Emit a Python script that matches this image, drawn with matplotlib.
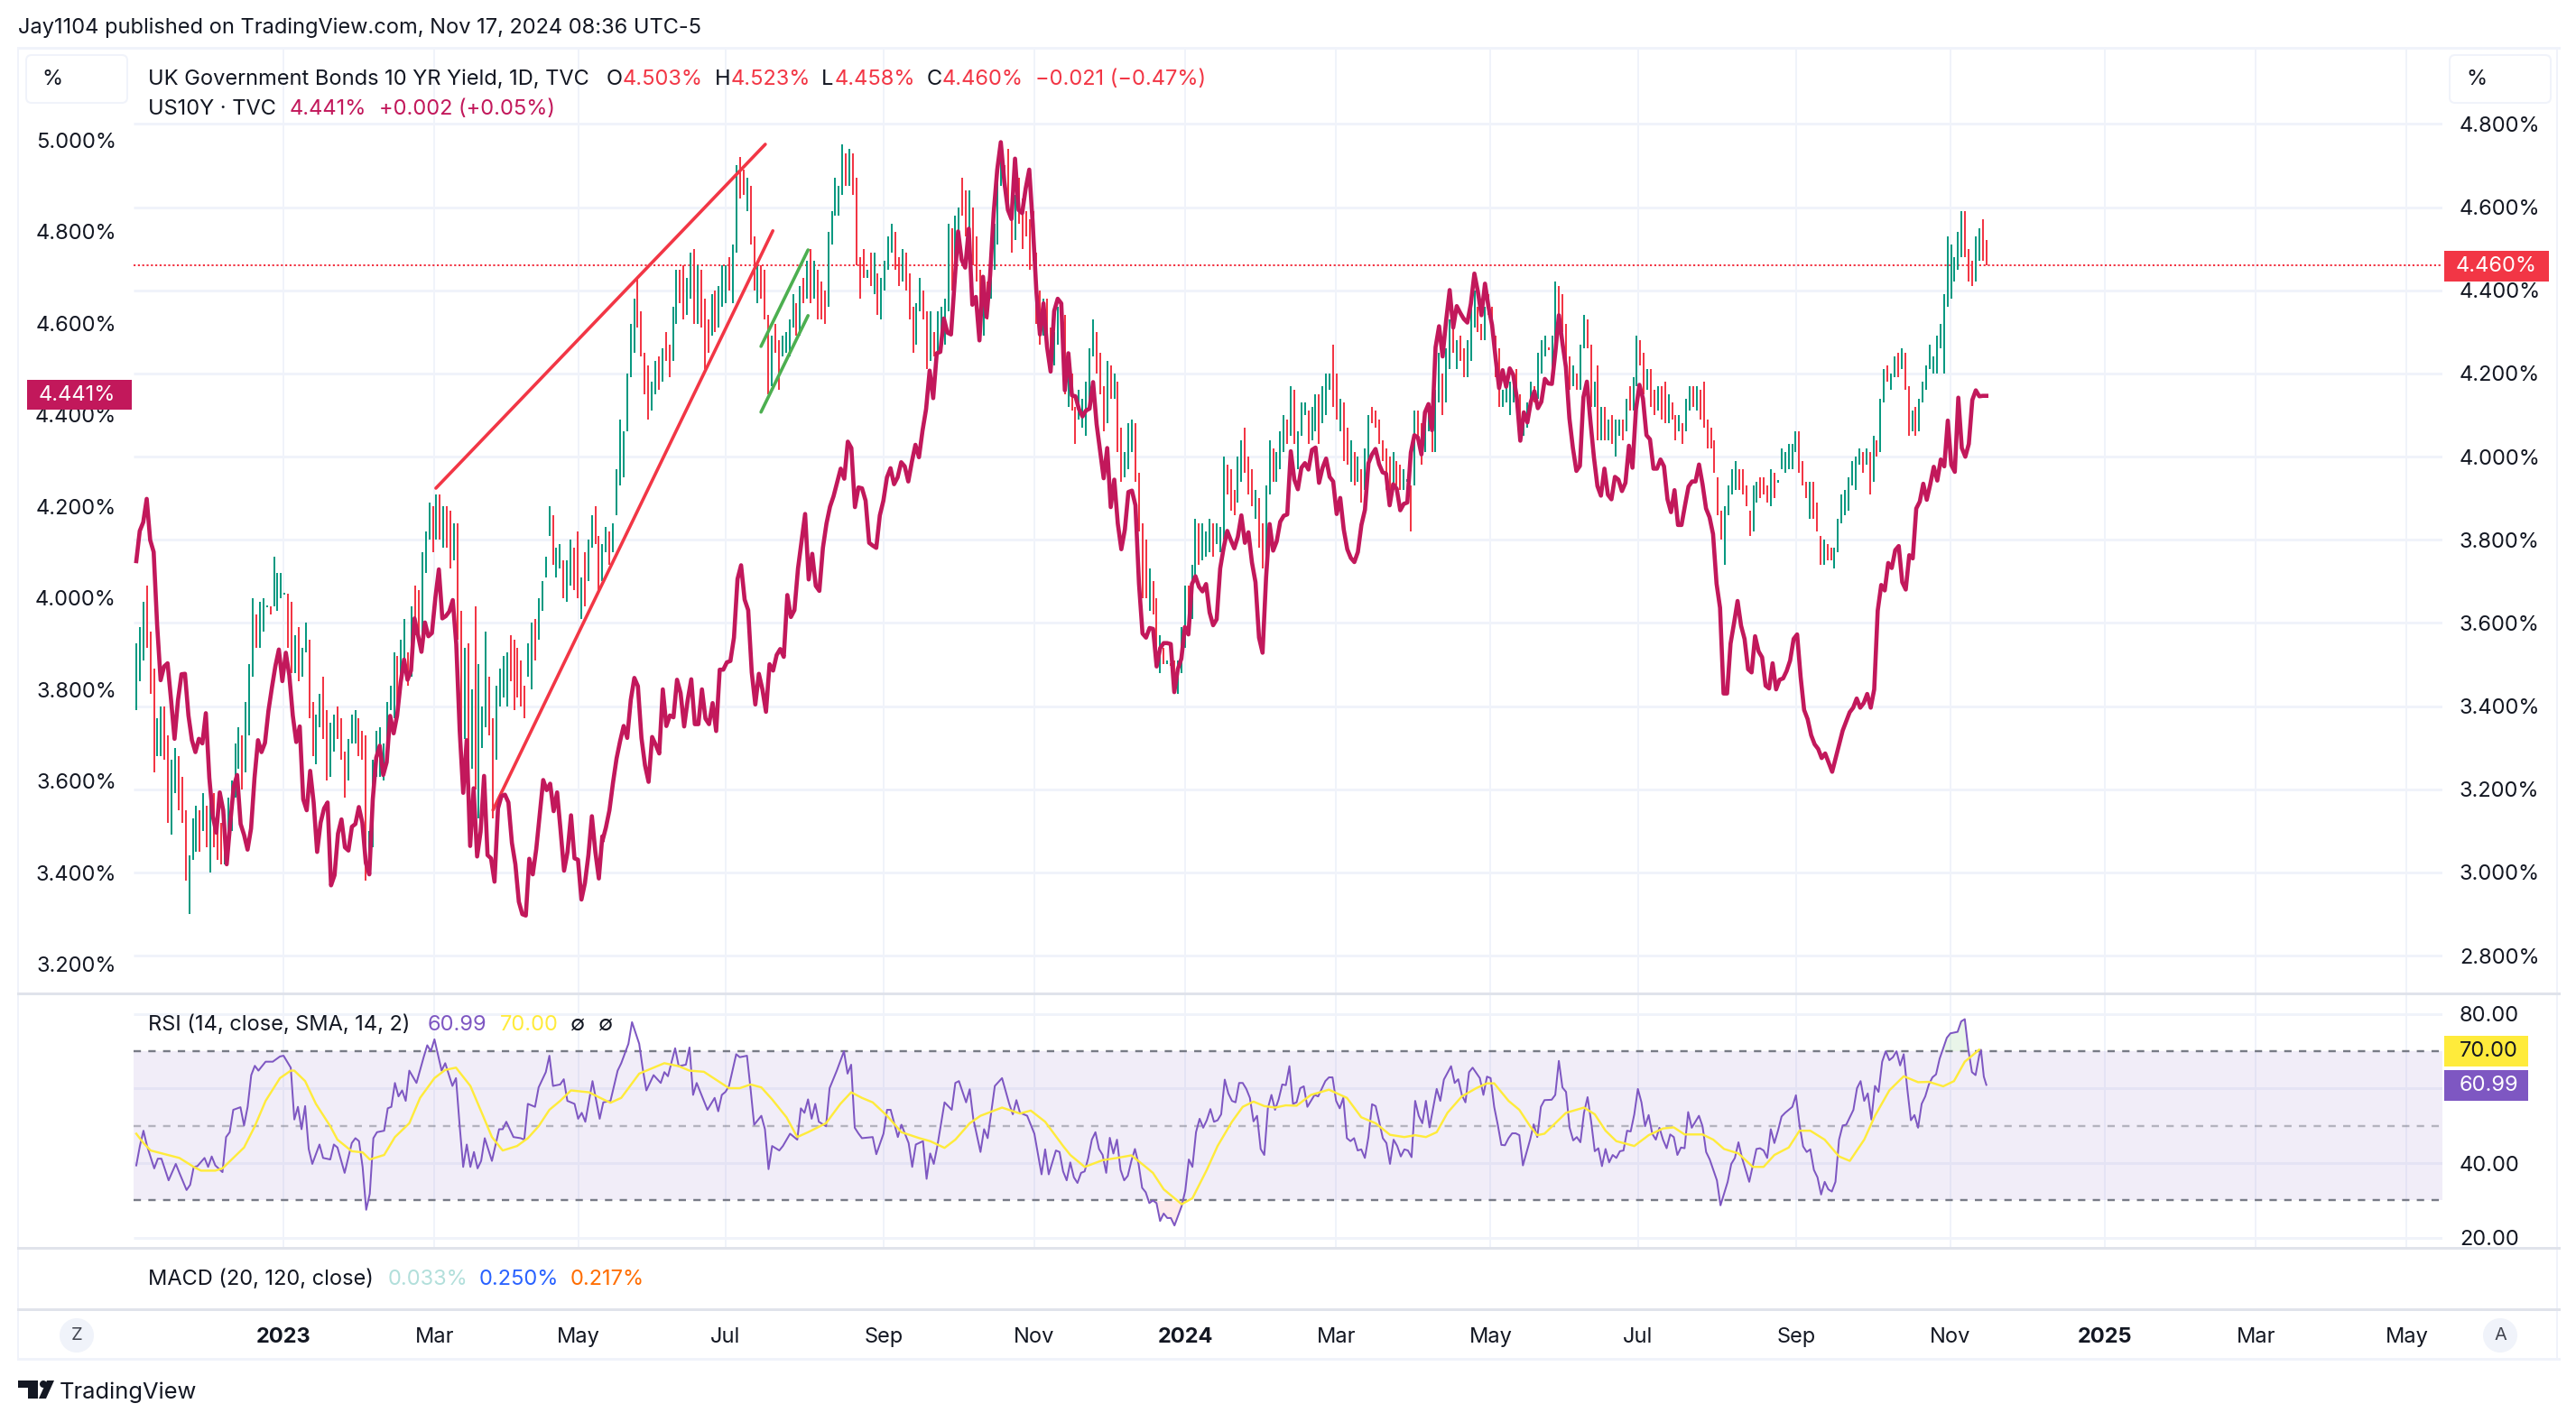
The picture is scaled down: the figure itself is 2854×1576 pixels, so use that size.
import numpy as np
import matplotlib
matplotlib.use("Agg")
from matplotlib import pyplot as plt
from matplotlib.lines import Line2D
from matplotlib.patches import Rectangle, FancyBboxPatch, Ellipse, Polygon
from matplotlib.transforms import Affine2D, blended_transform_factory

plt.rcParams['font.family'] = ['Inter', 'DejaVu Sans']

gilt_high_1 = [3.55,3.59,3.65,3.69,3.58,3.49,3.37,3.40,3.40,3.33,
    3.27,3.30,3.28,3.23,3.15,3.04,3.13,3.16,3.15,3.19,
    3.16,3.17,3.19,3.12,3.12,3.11,3.18,3.22,3.31,3.35,
    3.33,3.41,3.50,3.66,3.62,3.65,3.66,3.643,3.64,3.76,
    3.72,3.72,3.673,3.67,3.65,3.57,3.59,3.54,3.60,3.56,
    3.41,3.38,3.43,3.47,3.39,3.36,3.38,3.40,3.37,3.29,
    3.32,3.38,3.39,3.37,3.34,3.33,3.10,3.27,3.34,3.35,
    3.31,3.41,3.45,3.53,3.52,3.56,3.61,3.53,3.64,3.69,
    3.68,3.77,3.82,3.89,3.88,3.91,3.91,3.88,3.88,3.87,
    3.84,3.84,3.63,3.54,3.55,3.44,3.64,3.50,3.40,3.58,
    3.47,3.37,3.45,3.49,3.52,3.53,3.57,3.56,3.54,3.51,
    3.45,3.55,3.60,3.61,3.66,3.70,3.76,3.88,3.86,3.78,
    3.79,3.75,3.75,3.80,3.78,3.82,3.71,3.77,3.80,3.86,
    3.88,3.81,3.79]
gilt_low_1 = [3.39,3.46,3.51,3.54,3.43,3.24,3.28,3.28,3.27,3.12,
    3.09,3.19,3.15,3.12,2.98,2.90,3.03,3.05,3.05,3.10,
    3.06,3.00,3.06,3.03,3.02,3.02,3.09,3.10,3.18,3.25,
    3.20,3.24,3.33,3.47,3.54,3.54,3.58,3.637,3.62,3.64,
    3.63,3.66,3.667,3.54,3.48,3.48,3.46,3.47,3.53,3.37,
    3.28,3.26,3.35,3.32,3.22,3.23,3.29,3.32,3.27,3.18,
    3.22,3.31,3.31,3.28,3.27,2.98,2.99,3.06,3.23,3.23,
    3.22,3.29,3.39,3.37,3.40,3.45,3.49,3.45,3.47,3.57,
    3.55,3.53,3.72,3.80,3.77,3.80,3.80,3.78,3.78,3.73,
    3.75,3.56,3.25,3.32,3.21,3.25,3.20,3.13,3.30,3.35,
    3.33,3.13,3.27,3.40,3.42,3.40,3.46,3.39,3.42,3.40,
    3.37,3.47,3.44,3.51,3.56,3.63,3.71,3.81,3.74,3.71,
    3.73,3.66,3.65,3.69,3.68,3.66,3.61,3.64,3.70,3.78,
    3.79,3.67,3.70]
gilt_dir_1 = ("gggrrrggrr" "ggrrrgggrg" "rgrrrggggg" "rgggrgggrg" "gggrrgrggr"
    "rggrrggrrr" "gggrrrgggg" "ggggrggrgr" "rgggrgrgrr" "grrgrgrggg"
    "rrggggrrrr" "rggrggggrg" "grggrrgrgg" "rrg")

gilt_high_2 = [3.83,3.82,3.84,3.97,4.09,4.06,4.20,4.32,4.38,4.43,
    4.35,4.25,4.22,4.18,4.23,4.24,4.26,4.30,4.27,4.36,
    4.45,4.45,4.46,4.43,4.49,4.50,4.46,4.45,4.38,4.33,
    4.39,4.40,4.41,4.46,4.46,4.48,4.51,4.70,4.72,4.69,
    4.67,4.65,4.53,4.46,4.46,4.45,4.34,4.29,4.32,4.28,
    4.29,4.30,4.33,4.39,4.37,4.41,4.43,4.47,4.50,4.47,
    4.45,4.42,4.40,4.54,4.59,4.67,4.65,4.75,4.73,4.74,
    4.73,4.67,4.48,4.50,4.45,4.49,4.49,4.44,4.43,4.47,
    4.53,4.56,4.54,4.48,4.50,4.49,4.44,4.36,4.37,4.43,
    4.40,4.35,4.35,4.30,4.35,4.36,4.38,4.56,4.55,4.58,
    4.60,4.67,4.64,4.64,4.60,4.53,4.45,4.43,4.42,4.50,
    4.56,4.67,4.73,4.70,4.74,4.58,4.63,4.67,4.62,4.59,
    4.57,4.59,4.49,4.40,4.38,4.38,4.31,4.30,4.36,4.37,
    4.34]
gilt_low_2 = [3.77,3.74,3.77,3.86,3.93,3.95,4.06,4.19,4.25,4.31,
    4.24,4.15,4.09,4.11,4.15,4.16,4.18,4.23,4.19,4.23,
    4.32,4.37,4.33,4.34,4.38,4.32,4.32,4.31,4.21,4.25,
    4.29,4.30,4.31,4.36,4.37,4.40,4.37,4.49,4.62,4.63,
    4.59,4.51,4.40,4.37,4.38,4.33,4.15,4.17,4.25,4.16,
    4.24,4.25,4.24,4.31,4.29,4.29,4.37,4.38,4.37,4.38,
    4.33,4.33,4.32,4.36,4.51,4.58,4.58,4.63,4.65,4.65,
    4.63,4.46,4.38,4.43,4.43,4.41,4.39,4.34,4.33,4.40,
    4.45,4.49,4.45,4.41,4.42,4.40,4.33,4.25,4.27,4.35,
    4.33,4.21,4.23,4.24,4.25,4.27,4.27,4.35,4.40,4.42,
    4.51,4.58,4.53,4.55,4.46,4.42,4.32,4.29,4.33,4.38,
    4.45,4.51,4.65,4.64,4.59,4.49,4.52,4.56,4.50,4.53,
    4.45,4.47,4.32,4.27,4.29,4.26,4.21,4.22,4.27,4.30,
    4.15]
gilt_dir_2 = ("grgggggggr" "rrrggrgrrg" "grrggrgrrr" "grgggrggrr" "grrgrrrgrr"
    "ggggrgrgrg" "rrrgggggrg" "rrrrgrgrgg" "ggrrgrrrgg" "rrgrggggrg"
    "grrgrrrgrg" "gggrrrgrrr" "rrrrgrrggr" "r")

gilt_high_3 = [4.24,4.20,4.12,4.16,4.14,4.18,4.26,4.33,4.30,4.25,
    4.17,4.23,4.22,4.20,4.18,4.07,4.01,4.08,4.09,4.08,
    3.96,3.84,3.80,3.73,3.70,3.66,3.57,3.54,3.51,3.503,
    3.51,3.51,3.59,3.69,3.69,3.74,3.85,3.84,3.84,3.82,
    3.85,3.84,3.84,3.83,4.00,3.98,3.97,3.92,4.00,4.04,
    4.07,4.00,3.97,3.92,3.90,3.84,3.93,4.04,4.02,4.01,
    4.06,4.10,4.09,4.17,4.16,4.06,4.13,4.13,4.11,4.12,
    4.15,4.15,4.17,4.20,4.20,4.27,4.20,4.14,4.13,4.07,
    4.04,4.01,4.00,3.97,4.02,4.10,4.12,4.11,4.09,4.04,
    4.02,4.00,4.01,3.99,3.98,3.97,3.945,3.93,4.11,4.11,
    4.08,4.10,4.13,4.12,4.16,4.25,4.20,4.26,4.33,4.33,
    4.28,4.29,4.26,4.28,4.36,4.40,4.36,4.32,4.36,4.39,
    4.36,4.29,4.26,4.16,4.19,4.18,4.18,4.21,4.15,4.09]
gilt_low_3 = [4.12,4.11,4.03,4.09,4.07,4.05,4.13,4.24,4.20,4.15,
    4.06,4.08,4.14,4.14,4.01,3.94,3.95,3.97,4.01,3.94,
    3.82,3.66,3.66,3.63,3.62,3.50,3.48,3.50,3.50,3.497,
    3.43,3.43,3.48,3.54,3.61,3.61,3.70,3.74,3.75,3.76,
    3.77,3.76,3.79,3.77,3.80,3.91,3.87,3.86,3.89,3.94,
    3.96,3.91,3.88,3.85,3.78,3.73,3.74,3.91,3.94,3.94,
    3.97,4.01,4.03,4.05,4.03,3.97,4.05,4.10,4.03,4.04,
    4.06,4.03,4.08,4.10,4.16,4.12,4.09,4.06,3.99,3.98,
    3.94,3.93,3.94,3.89,3.92,3.98,4.08,4.07,4.03,3.99,
    3.92,3.91,3.92,3.93,3.92,3.92,3.94,3.82,3.93,4.03,
    3.98,4.01,4.06,4.01,4.01,4.13,4.10,4.13,4.21,4.25,
    4.21,4.23,4.19,4.19,4.23,4.31,4.30,4.28,4.28,4.34,
    4.30,4.19,4.12,4.12,4.13,4.10,4.13,4.16,4.06,4.05]
gilt_dir_3 = ("grrgggggrr" "rgrgrrgggr" "rrrgrrgrgr" "rgggrggrgg" "grgggrrrgg"
    "rrrgrrggrg" "ggrgrgggrg" "grgggrrgrr" "grgrggrrrr" "rrgrrggrgr"
    "rggrggrggr" "grrgggrrgr" "rrrggggrrg")

gilt_high_4 = [4.13,4.18,4.17,4.25,4.28,4.29,4.263,4.29,4.42,4.41,
    4.39,4.32,4.24,4.22,4.20,4.27,4.34,4.33,4.27,4.18,
    4.22,4.12,4.12,4.09,4.10,4.09,4.09,4.09,4.14,4.17,
    4.19,4.29,4.28,4.25,4.21,4.21,4.16,4.17,4.17,4.18,
    4.15,4.13,4.10,4.10,4.08,4.14,4.17,4.17,4.17,4.16,
    4.18,4.09,4.07,4.04,3.95,3.87,3.88,3.93,3.97,3.99,
    3.97,3.97,3.93,3.87,3.93,3.94,3.95,3.95,3.93,3.97,
    3.96,3.943,4.02,4.01,4.03,4.03,4.06,4.06,3.99,3.94,
    3.94,3.94,3.89,3.81,3.80,3.79,3.78,3.78,3.85,3.91,
    3.92,3.95,3.99,4.00,4.02,4.01,4.02,4.01,4.05,4.04,
    4.14,4.21,4.22,4.20,4.24,4.25,4.26,4.25,4.17,4.11,
    4.12,4.14,4.18,4.22,4.27,4.24,4.29,4.32,4.39,4.53,
    4.51,4.48,4.54,4.59,4.59,4.50,4.47,4.53,4.55,4.57,
    4.52]
gilt_low_4 = [4.07,4.12,4.13,4.14,4.20,4.24,4.257,4.21,4.27,4.34,
    4.30,4.22,4.16,4.17,4.16,4.16,4.26,4.26,4.12,4.12,
    4.04,4.04,4.04,4.04,4.03,4.00,4.05,4.04,4.06,4.11,
    4.11,4.17,4.22,4.15,4.16,4.12,4.10,4.11,4.09,4.08,
    4.08,4.09,4.04,4.06,4.03,4.06,4.11,4.12,4.11,4.09,
    4.07,4.02,4.02,3.96,3.86,3.80,3.74,3.86,3.91,3.92,
    3.92,3.91,3.88,3.81,3.82,3.89,3.90,3.91,3.89,3.88,
    3.90,3.937,3.97,3.96,3.97,3.97,4.01,3.96,3.93,3.90,
    3.85,3.85,3.82,3.74,3.74,3.75,3.75,3.73,3.77,3.84,
    3.86,3.87,3.93,3.92,3.98,3.96,3.98,3.91,3.94,4.00,
    4.01,4.13,4.18,4.16,4.19,4.19,4.21,4.16,4.05,4.06,
    4.05,4.06,4.13,4.16,4.21,4.20,4.20,4.26,4.20,4.36,
    4.38,4.42,4.45,4.48,4.48,4.42,4.41,4.42,4.47,4.47,
    4.46]
gilt_dir_4 = ("ggrgggrggr" "rrrgrggrrg" "rgrgrggrgr" "ggrrgrrgrr" "grrgrggrgr"
    "rrrrrrgggg" "rrrrggrrrg" "rggggggrrr" "grrrgrrggg" "gggggrgrgr"
    "ggrggrgrrg" "rggggggggg" "ggggrrrggr" "r")

# US10Y, same four stretches, left scale
us10y_1 = [4.08,4.146,4.165,4.216,4.126,4.10,3.94,3.82,3.85,3.857,3.777,3.692,3.777,3.833,3.834,
    3.743,3.689,3.663,3.692,3.682,3.748,3.607,3.523,3.487,3.575,3.536,3.418,3.506,3.587,3.613,
    3.506,3.482,3.45,3.496,3.607,3.689,3.663,3.683,3.753,3.804,3.851,3.887,3.818,3.88,3.831,
    3.743,3.685,3.719,3.56,3.536,3.622,3.553,3.445,3.509,3.54,3.553,3.372,3.394,3.485,3.516,
    3.455,3.448,3.50,3.506,3.543,3.509,3.421,3.396,3.56,3.651,3.677,3.613,3.641,3.742,3.704,
    3.743,3.814,3.865,3.821,3.841,3.955,3.919,3.882,3.946,3.916,3.923,4.0,4.062,3.955,3.96,
    3.97,3.995,3.899,3.709,3.574,3.689,3.458,3.584,3.435,3.489,3.611,3.438,3.431,3.38,3.54,
    3.567,3.57,3.553,3.465,3.418,3.336,3.309,3.306,3.43,3.396,3.451,3.526,3.602,3.58,3.594,
    3.534,3.575,3.492,3.404,3.445,3.525,3.431,3.428,3.341,3.377,3.438,3.523,3.445,3.387,3.479]
us10y_2 = [3.468,3.498,3.536,3.596,3.649,3.687,3.72,3.694,3.777,3.825,3.807,3.694,3.634,3.598,3.696,
    3.679,3.66,3.80,3.72,3.743,3.739,3.821,3.792,3.719,3.777,3.822,3.724,3.724,3.80,3.736,
    3.724,3.77,3.709,3.843,3.843,3.859,3.862,3.913,4.041,4.071,3.996,3.973,3.837,3.767,3.834,
    3.80,3.751,3.855,3.841,3.875,3.888,3.871,4.006,3.958,3.973,4.064,4.124,4.183,4.04,4.096,
    4.026,4.015,4.109,4.162,4.199,4.222,4.252,4.282,4.26,
    4.341,4.327,4.198,4.241,4.239,4.212,4.12,4.114,4.109,4.18,4.212,4.263,4.283,4.248,4.263,
    4.296,4.287,4.254,4.297,4.334,4.307,4.365,4.412,4.496,4.436,4.534,4.537,4.61,4.579,4.575,
    4.687,4.8,4.738,4.721,4.806,4.64,4.657,4.562,4.701,4.613,4.704,4.84,4.935,4.995,4.908,
    4.847,4.827,4.959,4.847,4.84,4.894,4.935,4.813,4.67,4.575,4.643,4.548,4.494,4.626,4.653,
    4.643,4.453]
us10y_3 = [4.534,4.442,4.44,4.412,4.396,4.409,4.413,4.471,4.379,4.32,4.261,4.327,4.198,4.258,4.162,
    4.106,4.149,4.231,4.234,4.202,4.031,3.922,3.913,3.934,3.932,3.85,3.89,3.901,3.901,3.899,
    3.794,3.844,3.867,3.936,3.92,4.03,4.047,4.024,4.014,4.03,3.968,3.94,3.953,4.064,4.11,
    4.146,4.126,4.108,4.133,4.18,4.12,4.143,4.077,4.034,3.913,3.88,4.044,4.161,4.103,4.123,
    4.166,4.179,4.182,4.32,4.258,4.237,4.284,4.294,4.28,4.323,4.328,4.251,4.284,4.304,4.264,
    4.254,4.183,4.218,4.149,4.106,4.087,4.078,4.1,4.159,4.192,4.294,4.313,4.325,4.292,4.274,
    4.271,4.202,4.248,4.238,4.191,4.205,4.208,4.317,4.355,4.35,4.313,4.405,4.423,4.366,4.547,
    4.593,4.527,4.606,4.672,4.59,4.637,4.622,4.609,4.601,4.642,4.708,4.668,4.617,4.686,4.635,
    4.596,4.524,4.458,4.497,4.461,4.501,4.487,4.438,4.343,4.405]
us10y_4 = [4.383,4.428,4.451,4.414,4.428,4.478,4.468,4.467,4.537,4.617,4.557,4.504,4.392,4.327,4.277,
    4.288,4.438,4.472,4.386,4.307,4.244,4.223,4.282,4.225,4.215,4.264,4.258,4.233,4.251,4.332,
    4.284,4.412,4.465,4.435,4.355,4.346,4.282,4.282,4.302,4.287,4.215,4.187,4.235,4.159,4.159,
    4.202,4.243,4.254,4.254,4.291,4.248,4.195,4.176,4.139,4.031,3.978,
    3.791,3.791,3.9,3.945,3.993,3.939,3.91,3.844,3.837,3.916,3.883,3.87,3.808,3.802,3.857,
    3.80,3.821,3.824,3.84,3.863,3.91,3.92,3.827,3.755,3.735,
    3.70,3.68,3.67,3.65,3.66,3.64,3.62,3.65,3.68,3.71,3.73,3.75,3.76,3.78,3.76,3.77,3.79,3.76,3.80,
    3.972,4.028,4.016,4.076,4.065,4.104,4.113,4.034,4.018,4.093,4.086,4.195,4.21,4.249,4.214,
    4.248,4.286,4.256,4.302,4.287,4.387,4.29,4.275,4.437,4.327,4.308,4.336,4.432,4.453,4.44,4.441,4.441]

# RSI (session number, value)
rsi_days = [0,1,2,3,5,6,7,9,11,12,14,15,16,17,19,20,21,22,24,25,26,27,29,30,31,32,33,34,36,38,40,41,43,44,45,46,47,48,49,51,
    52,54,55,56,58,60,61,62,63,64,65,66,67,69,70,71,72,73,74,75,76,78,80,81,82,83,85,86,88,89,90,91,92,93,94,95,96,97,99,101,
    102,103,105,107,108,109,111,112,114,115,116,118,119,120,122,123,124,125,127,129,130,132,134,135,137,138,140,141,142,144,146,147,148,150,151,153,154,155,156,159,
    161,162,163,164,165,167,168,170,171,172,174,175,176,177,179,180,182,184,185,186,187,188,189,190,192,193,195,197,198,199,200,201,202,205,206,208,209,210,212,213,
    215,216,217,219,220,221,222,223,225,227,228,229,231,232,233,235,236,237,239,241,243,244,245,246,248,250,252,253,254,256,257,258,
    259,260,261,262,263,264,265,266,267,268,269,270,271,272,273,274,275,276,277,278,279,280,281,282,283,284,285,286,287,288,289,291,292,293,294,295,296,297,298,299,
    300,301,302,303,304,305,306,307,308,309,310,311,312,313,314,315,316,317,318,319,320,321,322,323,324,325,326,328,329,331,332,333,334,335,336,337,338,339,340,341,
    342,343,344,345,346,347,348,349,350,351,352,353,354,355,356,357,358,359,360,362,363,364,366,367,368,369,370,371,372,374,375,376,377,378,379,380,381,382,383,384,
    385,386,388,389,390,391,392,394,395,396,397,398,399,400,401,402,403,404,405,406,407,408,409,410,411,412,413,414,415,416,417,418,419,420,421,422,423,424,425,426,
    427,428,429,430,431,432,433,435,436,437,438,440,441,443,444,445,446,447,449,451,452,453,454,455,456,457,458,459,461,462,463,464,465,466,467,468,469,470,471,472,
    473,474,475,476,478,479,480,481,482,483,484,485,486,487,488,489,490,491,492,493,494,495,496,497,498,499,500,501,502,504,505,507,508,509,510,511,512,513,513.5,514.3,515]
rsi_vals = [39.4,44.6,48.7,44.6,38.6,41.2,41.2,35.4,39.8,37.4,32.8,34.2,39,39.2,41.4,39,41.8,39.4,37.6,47,48.3,54.3,55,50.1,55.1,63.6,66.1,64.8,67.2,67.2,68.6,68.8,65.6,51.7,55.1,49.1,55.3,43.8,39.8,45,
    41.4,41,45,44.2,37.4,45.4,46.7,45.9,39,27.5,31.8,46.7,48.3,48.7,54.7,55.1,61.5,57.9,59.5,56.7,64.8,61.5,68.4,71.6,70,73.2,64.8,66.8,60.7,62.8,50.3,39,45,39,43,38.6,40.6,46.7,40.6,49.1,
    49.1,51.1,47,46.7,46.3,55.9,55.1,60.3,64.4,68.8,60.7,61.1,62.5,56.7,55.9,51.9,53.5,51.1,62,51.9,56.3,56.7,64.8,66.8,72,77.8,72,65.2,59.5,63.6,61.5,64.4,63.3,70.8,66,66.4,71,58.3,61.5,54.3,
    57.5,53.9,58.3,59.1,60.7,69.2,68.4,68.8,59.9,50.3,52.7,49.1,38.4,44.6,43.4,44.6,47.9,46.3,54.7,53.5,57.1,51.9,55.9,51.1,49.9,60.1,64.8,70,64,66.4,49.5,48,46.7,47,42.4,47.9,54.3,54.3,47,50.3,
    45.4,39,45,45.9,35.8,42.6,39.8,44.6,56.3,54.3,61.5,62,56.3,59.8,51.9,43,49.1,46.7,60.7,62.8,55.9,53.1,56.9,53.5,52.7,47.9,37,43.7,37,43.4,43,37.8,
    35.4,40.2,36.2,34.7,37.4,37.8,41.4,46.3,48.3,43.8,42.2,37.4,46.8,42.6,46.3,38.2,35.4,36.6,40.6,43.8,39.8,33.4,32.2,29.3,30,29.3,24.5,26.5,25.3,25.3,23.3,28.5,32.6,41,39,48.3,51.9,49.5,51.5,54.5,
    51.1,51.5,53.1,62.4,58.7,56.7,56.3,61.5,61.5,59.9,57.5,51.2,52.7,43.8,42.2,54.7,58.3,54.3,57.1,61.1,60.9,66,55.9,56.3,60.1,60.6,55.1,58.3,57.9,62,63,63,56.7,54.7,57.5,46.7,45.9,46.7,43.4,43.7,
    41.4,47,55.8,55.3,51.1,46.7,45.4,39.8,46.3,44.6,41.8,43.7,43.4,41.6,56.7,52.7,50.7,56.7,49.6,59.9,56.7,62.4,66,61.5,62.5,58.3,56.3,64.4,65.6,62.8,58.3,63.2,62.8,55.1,50.3,44.9,44.8,46.7,48,48,
    47.5,39.4,46.3,50.4,47,55.1,56.9,57,58.3,67.4,60.3,59.1,49.5,46.1,47,45.6,53.5,57.7,51.1,43.2,44,39.2,43.8,40.2,42.2,41.4,43.2,43.4,48.7,48.5,53.1,59.9,56.3,49.9,52.9,47.9,46.3,49.5,46.3,44,
    47.7,47,42.2,44.2,44,53.7,49.5,52.7,49.9,43,41,35.4,28.7,35,39.8,41.4,45.6,41.4,35,43.8,44,43.4,41.4,49.1,45.4,48.7,52.5,53.5,55.1,58.2,50.3,44.5,43,43.7,38.2,36.2,31.6,35,33,32.4,
    35,46.3,50.1,50.3,54.3,60.1,62,56.7,58.7,51.7,60.7,59.1,67.2,70,67.6,68.4,70,66.2,69.2,59.9,51.5,52.9,49.5,55.9,57.9,61.1,63,63.8,68,73.6,74.8,75.2,78,78.6,70.4,64.4,63.6,68.8,70.4,63.2,60.99]

rsi_sma_days = [0,2,4,8,12,16,18,22,24,27,30,33,36,40,43,44,47,50,54,56,60,63,65,69,72,76,79,83,86,89,93,96,99,102,106,109,112,115,118,121,
    126,130,132,135,140,144,147,151,154,158,162,165,168,171,174,177,181,184,187,192,196,199,202,205,209,213,218,221,225,228,232,235,241,246,249,253,258,
    260,264,269,273,277,281,283,286,291,294,298,301,305,308,311,314,317,320,323,327,332,337,341,345,349,353,356,359,362,365,369,373,376,378,382,385,388,390,392,395,
    398,403,406,409,412,417,421,425,428,431,436,439,442,446,450,453,456,460,463,466,470,474,477,481,484,488,492,496,499,503,506,509,511,513]
rsi_sma_vals = [47.9,45.4,43.4,42.4,41.4,39,38,38,38.6,41.4,44.2,49.9,56.7,62.8,64.8,64.8,62,55.9,49.9,46.3,43.2,42.9,41,42.2,47,50.7,57.5,62.8,65,65.6,60.7,53.9,47,43.4,44.6,46.7,49.9,54.3,56.7,59.5,
    59,57.1,56.2,57.5,64,65.6,66.8,66,64.8,64.5,62,60.1,60.1,61.1,60.3,57.1,52.3,47,48.3,50.7,55.9,59,57.5,56.3,52.7,48.3,46.7,45.9,44.1,46.3,50.7,52.7,54.9,53.3,54.1,51.1,44.6,
    42.2,39,40.8,41.4,42.1,39,37.4,33,29,30.6,38.2,44.6,51.1,55.1,56.5,55.3,54.9,55.5,55.4,58.3,59.7,57.5,52.3,50.7,47.6,47,47.5,47,48.3,53.5,57.9,60.1,61.4,61.4,56.7,54.3,49.9,47.5,47.9,50.7,
    53.5,54.9,53.1,48.7,45.9,44.6,47.5,49.3,49.6,47.7,47.7,46.3,43.8,42.6,39,39,42.2,44.2,48.7,48.7,46.3,41.8,40.6,46.3,52.7,59.5,63.3,61.7,61.8,60.6,62,67.2,68.8,70.4]

time_days = [41,83,123,164,208,250,292,334,377,418,462,505,548,590,632]
time_labels = ["2023","Mar","May","Jul","Sep","Nov","2024","Mar","May","Jul","Sep","Nov","2025","Mar","May"]
right_ticks = [4.8,4.6,4.4,4.2,4.0,3.8,3.6,3.4,3.2,3.0,2.8]
left_ticks = [5.0,4.8,4.6,4.4,4.2,4.0,3.8,3.6,3.4,3.2]
rsi_grid = [80,60,40,20]
rsi_ticks = [80,40,20]

last_gilt = 4.46

RED = '#F23645'
GREEN = '#089981'
PINK = '#C2185B'
PURPLE = '#7E57C2'
YELLOW = '#FFEB3B'
GRID = '#F0F3FA'
BORDER = '#E0E3EB'
TEXT = '#131722'

W, H = 2854, 1576
PT = 0.72  # points per pixel at dpi 100
FS = 23.6 * PT

fig = plt.figure(figsize=(W / 100, H / 100), dpi=100, facecolor='white')
px = Affine2D().scale(1, -1).translate(0, H)


def axes_px(l, t, r, b):
    return fig.add_axes([l / W, 1 - b / H, (r - l) / W, (b - t) / H])


def label(x, y, s, color=TEXT, ha='left', **kw):
    fig.text(x, y, s, color=color, ha=ha, va='center', fontsize=kw.pop('fontsize', FS),
             transform=px, **kw)


def frame(x0, y0, x1, y1, color=BORDER, lw=3):
    fig.add_artist(Line2D([x0, x1], [y0, y1], color=color, lw=lw * PT, transform=px))


xlim = (-0.75, 641.96)

# main pane, right scale holds the gilt bars
ax = axes_px(148, 53, 2706, 1101)
ax.set_xlim(xlim)
ax.set_ylim(2.709, 4.983)
for s in ax.spines.values():
    s.set_visible(False)
ax.set_xticks([])
ax.hlines(right_ticks, xlim[0], xlim[1], color=GRID, lw=3 * PT, zorder=1)
ax.vlines(time_days, 2.709, 4.983, color=GRID, lw=2 * PT, zorder=1)

highs = gilt_high_1 + gilt_high_2 + gilt_high_3 + gilt_high_4
lows = gilt_low_1 + gilt_low_2 + gilt_low_3 + gilt_low_4
dirs = gilt_dir_1 + gilt_dir_2 + gilt_dir_3 + gilt_dir_4
bar_x = np.linspace(0, 515, len(highs))
bar_colors = [GREEN if d == 'g' else RED for d in dirs]
ax.vlines(bar_x, lows, highs, colors=bar_colors, lw=2 * PT, zorder=3)
ax.axhline(last_gilt, color=RED, lw=2 * PT, ls=(0, (1.1, 1.3)), zorder=2)

# drawings on the chart
ax.plot([83.4, 175.1], [3.924, 4.751], color=RED, lw=3.6 * PT, zorder=4, solid_capstyle='round')
ax.plot([99.3, 177.2], [3.150, 4.543], color=RED, lw=3.6 * PT, zorder=4, solid_capstyle='round')
ax.plot([173.9, 187.0], [4.265, 4.497], color='#4CAF50', lw=3.6 * PT, zorder=4, solid_capstyle='round')
ax.plot([173.9, 187.0], [4.107, 4.339], color='#4CAF50', lw=3.6 * PT, zorder=4, solid_capstyle='round')

# left scale holds US10Y
ax2 = ax.twinx()
ax2.set_ylim(3.136, 5.201)
for s in ax2.spines.values():
    s.set_visible(False)
ax2.yaxis.tick_left()
ax2.set_yticks(left_ticks, ['%.3f%%' % v for v in left_ticks])
ax2.tick_params(axis='y', length=0, pad=19 * PT, labelsize=FS, labelcolor=TEXT)
ax2.patch.set_visible(False)

# twinx moves the first axes' ticks to the left, so set them after it
ax.yaxis.tick_right()
ax.set_yticks(right_ticks, ['%.3f%%' % v for v in right_ticks])
ax.tick_params(axis='y', length=0, pad=19 * PT, labelsize=FS, labelcolor=TEXT)

n1, n2, n3 = len(gilt_high_1), len(gilt_high_2), len(gilt_high_3)
us_x = np.concatenate([
    np.linspace(bar_x[0], bar_x[n1 - 1], len(us10y_1)),
    np.linspace(bar_x[n1 - 1], bar_x[n1 + n2 - 1], len(us10y_2)),
    np.linspace(bar_x[n1 + n2], bar_x[n1 + n2 + n3 - 1], len(us10y_3)),
    np.linspace(bar_x[n1 + n2 + n3], bar_x[-1], len(us10y_4)),
])
ax2.plot(us_x, us10y_1 + us10y_2 + us10y_3 + us10y_4, color=PINK, lw=4.6 * PT, zorder=5,
         solid_joinstyle='round')

# RSI pane
rsi = axes_px(148, 1101, 2706, 1383)
rsi.set_xlim(xlim)
rsi.set_ylim(17.3, 85.5)
for s in rsi.spines.values():
    s.set_visible(False)
rsi.set_xticks([])
rsi.yaxis.tick_right()
rsi.set_yticks(rsi_ticks, ['%.2f' % v for v in rsi_ticks])
rsi.tick_params(axis='y', length=0, pad=19 * PT, labelsize=FS, labelcolor=TEXT)
rsi.hlines(rsi_grid, xlim[0], xlim[1], color=GRID, lw=3 * PT, zorder=1)
rsi.vlines(time_days, 17.3, 85.5, color=GRID, lw=2 * PT, zorder=1)
rsi.axhspan(30, 70, facecolor=PURPLE, alpha=0.1, lw=0, zorder=1.5)
rsi.axhline(70, color='#787B86', lw=2.4 * PT, ls=(0, (3.4, 3.4)), zorder=2)
rsi.axhline(50, color='#787B86', alpha=0.5, lw=2.4 * PT, ls=(0, (3.4, 3.4)), zorder=2)
rsi.axhline(30, color='#787B86', lw=2.4 * PT, ls=(0, (3.4, 3.4)), zorder=2)
days = np.array(rsi_days)
vals = np.array(rsi_vals)
hot = (days > 500) & (vals >= 70)
cold = (days > 280) & (days < 295) & (vals <= 30)
rsi.fill_between(days, vals, 70, where=hot, interpolate=True, color='#4CAF50', alpha=0.12, lw=0, zorder=2)
rsi.fill_between(days, vals, 30, where=cold, interpolate=True, color=RED, alpha=0.1, lw=0, zorder=2)
rsi.plot(days, vals, color=PURPLE, lw=2 * PT, zorder=3)
rsi.plot(rsi_sma_days, rsi_sma_vals, color=YELLOW, lw=2.4 * PT, zorder=4)

# MACD pane is empty except for its legend
# time axis
tm = axes_px(148, 1451, 2706, 1506)
tm.set_xlim(xlim)
tm.axis('off')
tr = blended_transform_factory(tm.transData, tm.transAxes)
for d, t in zip(time_days, time_labels):
    tm.text(d, 0.44, t, transform=tr, ha='center', va='center', fontsize=FS, color=TEXT,
            fontweight='bold' if t.isdigit() else 'normal')

# outer frame and pane separators
frame(20, 53, 2835, 53, color=GRID)
frame(20, 53, 20, 1506, color=GRID, lw=2)
frame(2833, 53, 2833, 1506, color=GRID, lw=2)
frame(20, 1101, 2835, 1101)
frame(20, 1383, 2835, 1383)
frame(20, 1451, 2835, 1451)
frame(20, 1506, 2835, 1506, color=GRID)

# unit boxes
for x0 in (29, 2714):
    fig.add_artist(FancyBboxPatch((x0 + 4, 65), 104, 45, boxstyle='round,pad=4,rounding_size=6',
                                  fc='white', ec=GRID, lw=2 * PT, transform=px))
label(46, 88, '%')
label(2732, 88, '%')

# price flags
fig.add_artist(Rectangle((2708, 278), 116, 34, fc=RED, ec='none', transform=px))
label(2766, 295, '4.460%', color='white', ha='center')
fig.add_artist(Rectangle((30, 421), 116, 33, fc=PINK, ec='none', transform=px))
label(85, 438, '4.441%', color='white', ha='center')
fig.add_artist(Rectangle((2708, 1148), 93, 34, fc=YELLOW, ec='none', transform=px))
label(2725, 1165, '70.00')
fig.add_artist(Rectangle((2708, 1186), 93, 34, fc=PURPLE, ec='none', transform=px))
label(2725, 1203, '60.99', color='white')

# header and legends
label(20, 31, 'Jay1104 published on TradingView.com, Nov 17, 2024 08:36 UTC-5')
label(164, 88, 'UK Government Bonds 10 YR Yield, 1D, TVC')
for x, s, c in [(672, 'O', TEXT), (690, '4.503%', RED), (792, 'H', TEXT), (810, '4.523%', RED),
                (910, 'L', TEXT), (925, '4.458%', RED), (1027, 'C', TEXT), (1044, '4.460%', RED),
                (1147, '\u22120.021 (\u22120.47%)', RED)]:
    label(x, 88, s, color=c)
label(164, 121, 'US10Y \u00b7 TVC')
label(321, 121, '4.441%', color=PINK)
label(420, 121, '+0.002 (+0.05%)', color=PINK)
label(164, 1136, 'RSI (14, close, SMA, 14, 2)')
label(474, 1136, '60.99', color=PURPLE)
label(554, 1136, '70.00', color=YELLOW)
label(632, 1136, '\u2205')
label(663, 1136, '\u2205')
label(164, 1418, 'MACD (20, 120, close)')
label(430, 1418, '0.033%', color='#B2DFDB')
label(531, 1418, '0.250%', color='#2962FF')
label(632, 1418, '0.217%', color='#FF6D00')

# Z and A buttons
for x, s in [(85, 'Z'), (2770, 'A')]:
    fig.add_artist(Ellipse((x, 1480), 38, 38, fc=GRID, ec='none', transform=px))
    label(x, 1480, s, ha='center', fontsize=20 * PT, color='#434651')

# TradingView logo
fig.add_artist(Polygon([(20, 1530), (42, 1530), (42, 1550), (31, 1550), (31, 1538), (20, 1538)],
                       fc=TEXT, ec='none', transform=px))
fig.add_artist(Ellipse((48, 1534), 8, 8, fc=TEXT, ec='none', transform=px))
fig.add_artist(Polygon([(52, 1530), (60, 1530), (51, 1550), (43, 1550)], fc=TEXT, ec='none', transform=px))
label(66, 1543, 'TradingView', fontsize=25.5 * PT)

fig.savefig('out.png', dpi=100)
